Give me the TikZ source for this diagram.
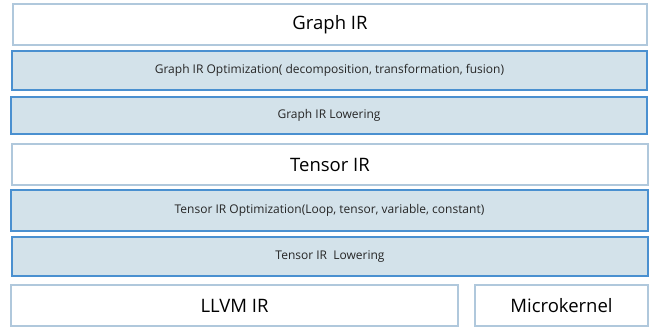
\documentclass[tikz,border=0pt]{standalone}
\usepackage{fontspec}
\setmainfont{Open Sans}
\definecolor{stageblue}{HTML}{D3E2EA}
\definecolor{stageedge}{HTML}{4A90D0}
\definecolor{layeredge}{HTML}{B0C8DC}
\tikzset{
  layerbox/.style={draw=layeredge, line width=1.2pt, fill=white, minimum height=41pt, font=\fontsize{18.5}{22}\selectfont},
  stagebox/.style={draw=stageedge, line width=1.2pt, fill=stageblue, minimum height=39pt, text=black!85, font=\fontsize{12}{14}\selectfont}
}
\begin{document}
\begin{tikzpicture}[x=1pt,y=-1pt]
  \useasboundingbox (0,0) rectangle (649,327);
  % graph level
  \node[layerbox, minimum width=634pt] (graphir) at (330,24.5) {Graph IR};
  \node[stagebox, minimum width=635pt] (graphopt) at (329.5,70.5) {Graph IR Optimization( decomposition, transformation, fusion)};
  \node[stagebox, minimum width=636pt, minimum height=37pt] (graphlow) at (329,115.5) {Graph IR Lowering};
  % tensor level
  \node[layerbox, minimum width=636pt] (tensorir) at (330,164.5) {Tensor IR};
  \node[stagebox, minimum width=637pt, minimum height=41pt] (tensoropt) at (329.5,210.5) {Tensor IR Optimization(Loop, tensor, variable, constant)};
  \node[stagebox, minimum width=636pt] (tensorlow) at (330,256.5) {Tensor IR \ Lowering};
  % backends
  \node[layerbox, minimum width=447pt] (llvmir) at (234.5,305.5) {LLVM IR};
  \node[layerbox, minimum width=173pt] (ukernel) at (561.5,305.5) {Microkernel};
\end{tikzpicture}
\end{document}
